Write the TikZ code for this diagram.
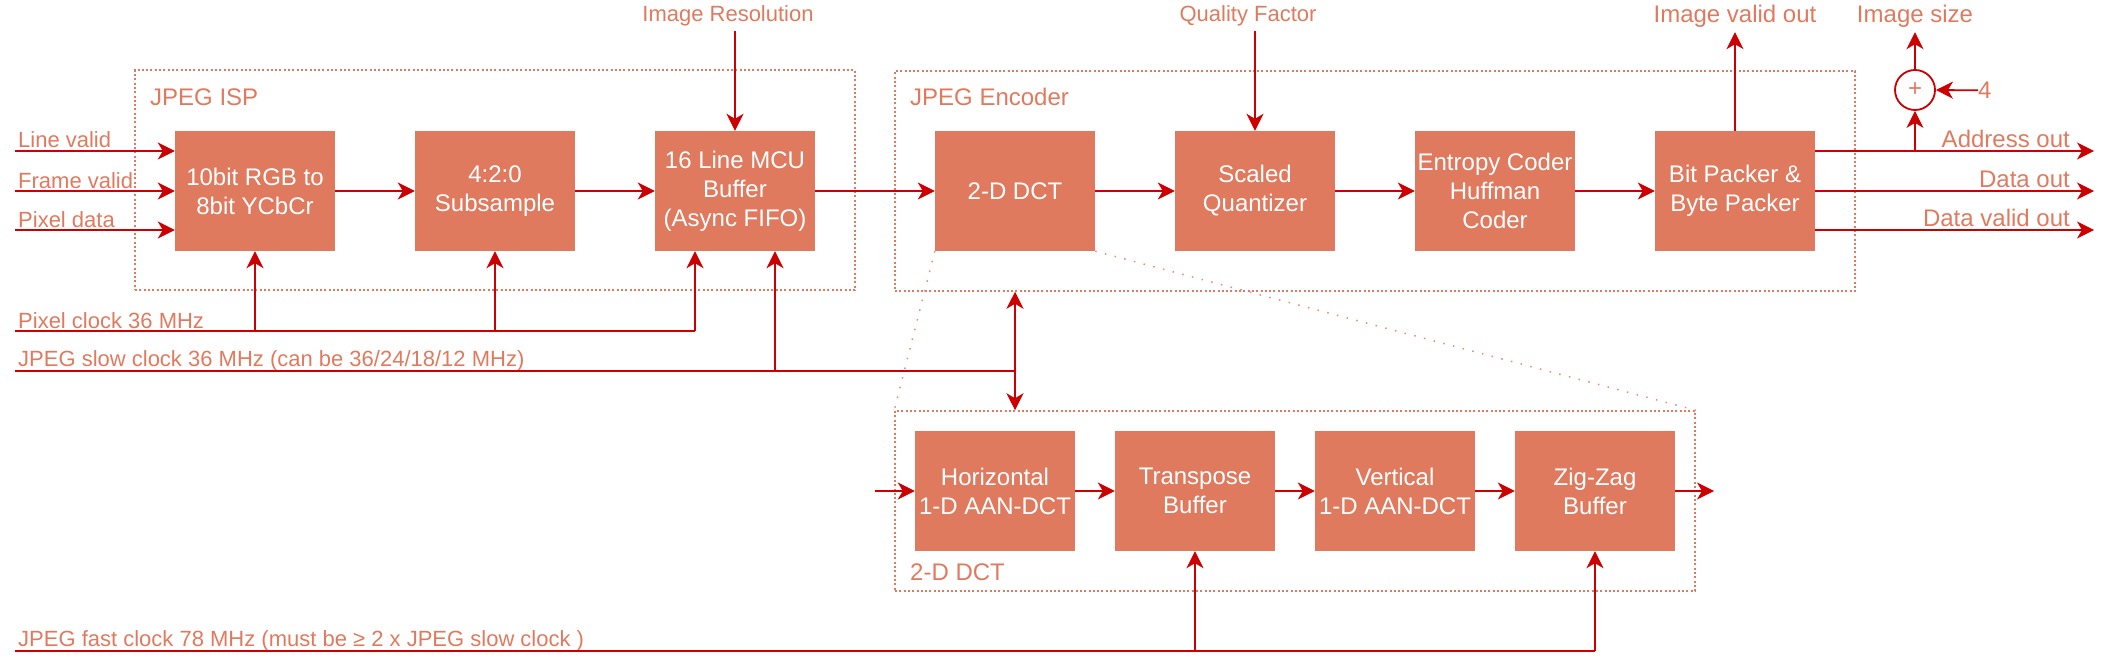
\documentclass[tikz,border=0pt]{standalone}
\usepackage{fontspec}
\setmainfont{Liberation Sans}
\usetikzlibrary{arrows.meta,calc}
\definecolor{boxc}{HTML}{E07A5F}
\definecolor{linec}{HTML}{CC0000}
\definecolor{txtc}{HTML}{E07A5F}
\newcommand\fsz{\fontsize{24}{29}\selectfont}
\newcommand\fsm{\fontsize{22}{27}\selectfont}
\begin{document}
\begin{tikzpicture}[x=1pt,y=-1pt,
  blk/.style={rectangle, fill=boxc, minimum width=160pt, minimum height=120pt, inner sep=0pt, text=white, font=\fsz, align=center},
  wire/.style={draw=linec, line width=1.8pt},
  arr/.style={wire, -{Stealth[length=17pt,width=17pt,inset=5pt]}},
  lbl/.style={text=txtc, font=\fsz, inner sep=0pt},
  slbl/.style={lbl, font=\fsm},
  grp/.style={rectangle, draw=txtc, line width=1.5pt, dash pattern=on 2pt off 2.3pt, inner sep=0pt},
  zoomline/.style={draw=txtc!85, line width=1.5pt, dash pattern=on 1.5pt off 8.5pt},
]
\useasboundingbox (0,0) rectangle (2112,666);

% groups
\node[grp, minimum width=720pt, minimum height=220pt] (isp) at (495,180) {};
\node[grp, minimum width=960pt, minimum height=220pt] (enc) at (1375,181) {};
\node[grp, minimum width=800pt, minimum height=180pt] (dctg) at (1295,501) {};
\node[lbl, anchor=base west] (ispl) at (150,106) {JPEG ISP};
\node[lbl, anchor=base west] (encl) at (910,106) {JPEG Encoder};
\node[lbl, anchor=base west] (dctl) at (910,580) {2-D DCT};

% blocks
\node[blk] (rgb) at (255,191) {10bit RGB to\\8bit YCbCr};
\node[blk] (sub) at (495,191) {4:2:0\\Subsample};
\node[blk] (mcu) at (735,191) {16 Line MCU\\Buffer\\(Async FIFO)};
\node[blk] (dct) at (1015,191) {2-D DCT};
\node[blk] (quant) at (1255,191) {Scaled\\Quantizer};
\node[blk] (ent) at (1495,191) {Entropy Coder\\Huffman\\Coder};
\node[blk] (pack) at (1735,191) {Bit Packer \&\\Byte Packer};
\node[blk] (hdct) at (995,491) {Horizontal\\1-D AAN-DCT};
\node[blk] (tr) at (1195,491) {Transpose\\Buffer};
\node[blk] (vdct) at (1395,491) {Vertical\\1-D AAN-DCT};
\node[blk] (zz) at (1595,491) {Zig-Zag\\Buffer};

% zoom lines
\draw[zoomline] (dct.south west) -- (dctg.north west);
\draw[zoomline] (dct.south east) -- (dctg.north east);

% inputs
\coordinate (lvin) at (15,151);
\coordinate (fvin) at (15,191);
\coordinate (pdin) at (15,230);
\node[slbl, anchor=base west] (lvl) at (18,148) {Line valid};
\node[slbl, anchor=base west] (fvl) at (18,188) {Frame valid};
\node[slbl, anchor=base west] (pdl) at (18,227) {Pixel data};
\draw[arr] (lvin) -- (lvin -| rgb.west);
\draw[arr] (fvin) -- (fvin -| rgb.west);
\draw[arr] (pdin) -- (pdin -| rgb.west);

% chain
\draw[arr] (rgb) -- (sub);
\draw[arr] (sub) -- (mcu);
\draw[arr] (mcu) -- (dct);
\draw[arr] (dct) -- (quant);
\draw[arr] (quant) -- (ent);
\draw[arr] (ent) -- (pack);

% top labels
\node[slbl, anchor=base] (resl) at (728,22) {Image Resolution};
\node[slbl, anchor=base] (qfl) at (1248,22) {Quality Factor};
\node[lbl, anchor=base] (ivl) at (1735,23) {Image valid out};
\node[lbl, anchor=base] (isl) at (1915,23) {Image size};
\coordinate (resin) at (735,31);
\coordinate (qfin) at (1255,31);
\draw[arr] (resin) -- (mcu.north);
\draw[arr] (qfin) -- (quant.north);
\draw[arr] (pack.north) -- ([yshift=-4pt]ivl.south);

% adder
\node[circle, draw=linec, line width=1.8pt, minimum size=40pt, inner sep=0pt, text=txtc, font=\fsz] (sum) at (1915,90) {+};
\node[lbl, anchor=base west] (four) at (1978,98.6) {4};
\draw[arr] (sum.north) -- ([yshift=-4pt]isl.south);
\draw[arr] (four.west) -- (sum.east);

% outputs
\coordinate (addr) at (2094,151);
\coordinate (dout) at (2094,191);
\coordinate (dvout) at (2094,230);
\draw[arr] (pack.east |- addr) -- (addr);
\draw[arr] (pack.east |- dout) -- (dout);
\draw[arr] (pack.east |- dvout) -- (dvout);
\draw[arr] (sum.south |- addr) -- (sum.south);
\node[lbl, anchor=base east] (addrl) at (2070,147) {Address out};
\node[lbl, anchor=base east] (doutl) at (2070,187) {Data out};
\node[lbl, anchor=base east] (dvoutl) at (2070,226) {Data valid out};

% pixel clock
\coordinate (pclk) at (15,331);
\coordinate (pc3) at (695,331);
\node[slbl, anchor=base west] (pclkl) at (18,328) {Pixel clock 36 MHz};
\draw[wire] (pclk) -- (pc3);
\draw[arr] (pclk -| rgb.south) -- (rgb.south);
\draw[arr] (pclk -| sub.south) -- (sub.south);
\draw[arr] (pc3) -- (pc3 |- mcu.south);

% slow clock
\coordinate (sclk) at (15,371);
\coordinate (sc3) at (775,371);
\coordinate (scd) at (1015,371);
\node[slbl, anchor=base west] (sclkl) at (18,366) {JPEG slow clock 36 MHz (can be 36/24/18/12 MHz)};
\draw[wire] (sclk) -- (scd);
\draw[arr] (sc3) -- (sc3 |- mcu.south);
\draw[arr] (scd) -- (scd |- enc.south);
\draw[arr] (scd) -- (scd |- dctg.north);

% 2-D DCT chain
\coordinate (din) at (875,491);
\coordinate (dcto) at (1714,491);
\draw[arr] (din) -- (hdct);
\draw[arr] (hdct) -- (tr);
\draw[arr] (tr) -- (vdct);
\draw[arr] (vdct) -- (zz);
\draw[arr] (zz) -- (dcto);

% fast clock
\coordinate (fclk) at (15,651);
\node[slbl, anchor=base west] (fclkl) at (18,646) {JPEG fast clock 78 MHz (must be ≥ 2 x JPEG slow clock )};
\draw[wire] (fclk) -- (fclk -| zz.south);
\draw[arr] (fclk -| tr.south) -- (tr.south);
\draw[arr] (fclk -| zz.south) -- (zz.south);
\end{tikzpicture}
\end{document}
